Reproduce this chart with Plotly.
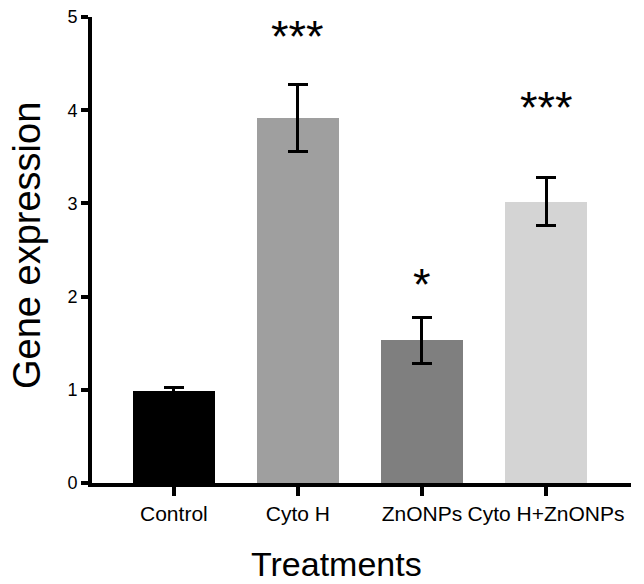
import plotly.graph_objects as go

categories = ["Control", "Cyto H", "ZnONPs", "Cyto H+ZnONPs"]
means = [0.99, 3.92, 1.53, 3.02]
errors = [0.03, 0.36, 0.25, 0.26]
bar_colors = ["#000000", "#9f9f9f", "#7f7f7f", "#d4d4d4"]
stars = ["", "***", "*", "***"]
star_y = [None, 4.79, 2.13, 4.03]
y_ticks = [0, 1, 2, 3, 4, 5]

FONT = "Liberation Sans, Arial, sans-serif"

fig = go.Figure()
fig.add_trace(go.Bar(
    x=categories, y=means, width=0.66,
    marker=dict(color=bar_colors, line=dict(width=0)),
    error_y=dict(type="data", array=errors, color="black", thickness=3, width=10),
    showlegend=False,
))

for c, s, yv in zip(categories, stars, star_y):
    if s:
        fig.add_annotation(x=c, y=yv, text=s, showarrow=False, xref="x", yref="y",
                           yanchor="middle", font=dict(size=45, color="black", family=FONT))

L, R, T, B = 92, 13, 17, 101
W, H = 644, 584
pw, ph = W - L - R, H - T - B

fig.add_annotation(x=(336 - L) / pw, y=(483 - 564) / ph, xref="paper", yref="paper",
                   text="Treatments", showarrow=False, xanchor="center", yanchor="middle",
                   font=dict(size=34, color="black", family=FONT))
fig.add_annotation(x=(27 - L) / pw, y=(483 - 246) / ph, xref="paper", yref="paper",
                   text="Gene expression", showarrow=False, textangle=-90,
                   xanchor="center", yanchor="middle",
                   font=dict(size=38, color="black", family=FONT))

fig.update_layout(
    width=W, height=H,
    margin=dict(l=L, r=R, t=T, b=B, pad=0, autoexpand=False),
    plot_bgcolor="white", paper_bgcolor="white",
    font=dict(family=FONT, color="black"),
    bargap=0,
)
fig.update_xaxes(
    range=[-0.66, 3.685], showline=True, linecolor="black", linewidth=4,
    ticks="outside", ticklen=9, tickwidth=4, tickcolor="black", tickangle=0,
    tickfont=dict(size=21, color="black", family=FONT), automargin=False,
    showgrid=False, zeroline=False,
)
fig.update_yaxes(
    range=[0, 5], tickvals=y_ticks, showline=True, linecolor="black", linewidth=4,
    ticks="outside", ticklen=7, tickwidth=4, tickcolor="black", automargin=False,
    tickfont=dict(size=18, color="black", family=FONT),
    showgrid=False, zeroline=False,
)

fig.write_html("out.html", config={"displayModeBar": False},
               post_script="document.body.style.margin='0';")
